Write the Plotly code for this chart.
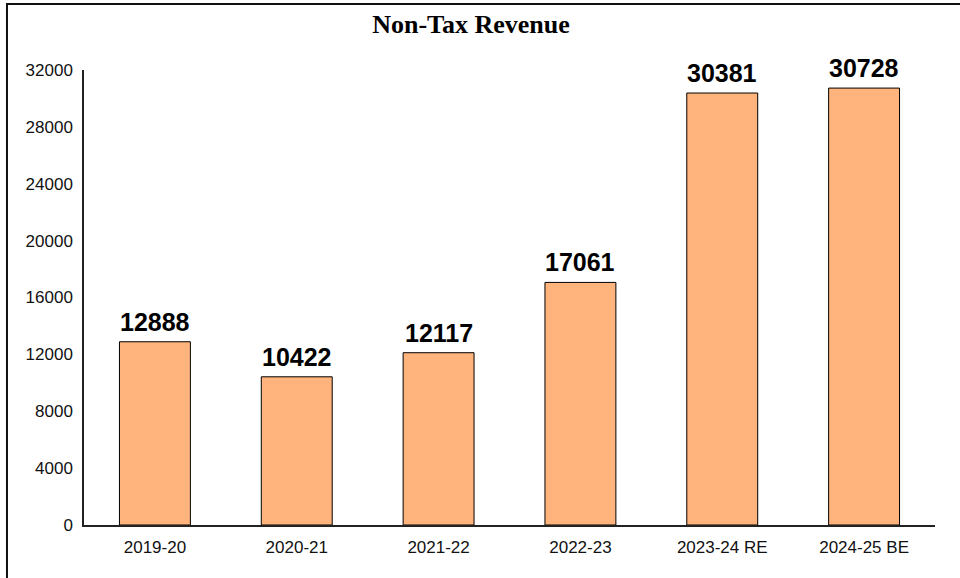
import plotly.graph_objects as go

categories = ["2019-20", "2020-21", "2021-22", "2022-23", "2023-24 RE", "2024-25 BE"]
values = [12888, 10422, 12117, 17061, 30381, 30728]
y_ticks = [0, 4000, 8000, 12000, 16000, 20000, 24000, 28000, 32000]
title_text = "Non-Tax Revenue"

fig = go.Figure()
fig.add_trace(go.Bar(
    x=categories, y=values,
    marker=dict(color="#FFB47D", line=dict(color="#000000", width=1)),
    hoverinfo="x+y",
))

for c, v in zip(categories, values):
    fig.add_annotation(
        x=c, y=v, text=f"<b>{v}</b>", showarrow=False,
        yanchor="bottom", yshift=4,
        font=dict(family="Liberation Sans, Arial, sans-serif", size=25, color="#000000"),
    )

# outer frame (only left and top edges visible in the reference)
fig.add_shape(type="rect", xref="paper", yref="paper",
              x0=-0.0905, x1=1.2, y0=-0.3, y1=1.145,
              line=dict(color="#111111", width=2), fillcolor="rgba(0,0,0,0)", layer="below")

fig.update_layout(
    width=960, height=578,
    margin=dict(l=84, r=25, t=70, b=53),
    paper_bgcolor="white", plot_bgcolor="white",
    bargap=0.5,
    showlegend=False,
    title=dict(text=f"<b>{title_text}</b>", x=471/960, xref="container", xanchor="center",
               y=1 - 24/578, yref="container", yanchor="middle",
               font=dict(family="Liberation Serif, Times New Roman, serif", size=26, color="#000000")),
    font=dict(family="Liberation Sans, Arial, sans-serif", size=17, color="#111111"),
)
fig.update_xaxes(
    type="category", showline=True, linecolor="#222222", linewidth=2,
    showgrid=False, ticks="", ticklabelstandoff=6,
    tickfont=dict(size=17, color="#111111"),
)
fig.update_yaxes(
    range=[0, 32000], tickvals=y_ticks, ticktext=[str(t) for t in y_ticks],
    showline=True, linecolor="#222222", linewidth=1.5,
    showgrid=False, zeroline=False, ticks="", ticklabelstandoff=6,
    tickfont=dict(size=17, color="#111111"),
)

fig.write_html("out.html", config={"displayModeBar": False},
               post_script="document.body.style.margin='0';document.body.style.overflow='hidden';")
